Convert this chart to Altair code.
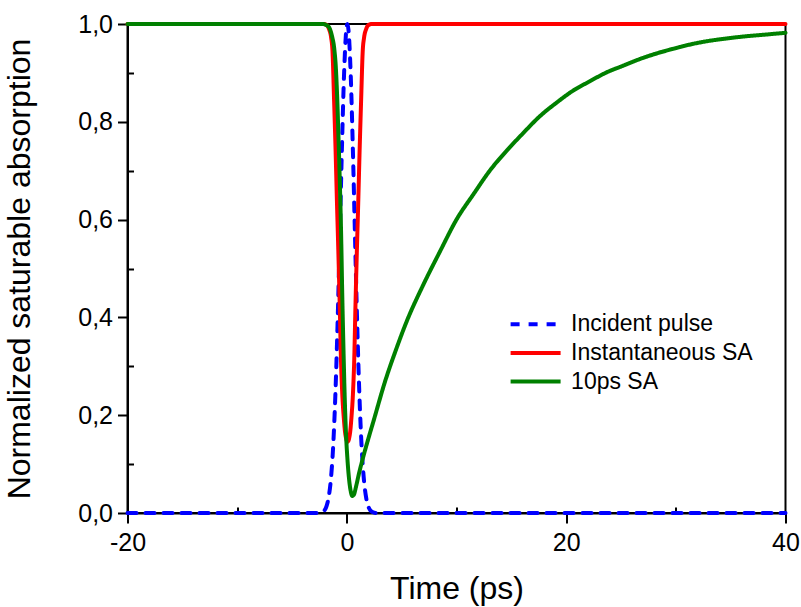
import altair as alt
import pandas as pd

# Incident pulse (normalized)
pulse_t = [-20, -2.6, -2.25, -2.05, -1.85, -1.65, -1.45, -1.25, -1.05, -0.85, -0.65, -0.45,
           -0.25, -0.05, 0.05, 0.15, 0.35, 0.55, 0.75, 0.95, 1.15, 1.35, 1.55, 1.75, 1.95,
           2.15, 2.35, 2.7, 40]
pulse_v = [0, 0, 0.002, 0.005, 0.014, 0.033, 0.07, 0.135, 0.239, 0.383, 0.56, 0.744,
           0.899, 0.988, 1.0, 0.988, 0.899, 0.744, 0.56, 0.383, 0.239, 0.135, 0.07, 0.033, 0.014,
           0.005, 0.002, 0, 0]

# Instantaneous SA
inst_t = [-20, -2.13, -1.83, -1.63, -1.43, -1.31, -1.16, -1.03, -0.9, -0.78, -0.65, -0.53,
          -0.43, -0.28, -0.13, 0.07, 0.27, 0.42, 0.57, 0.67, 0.79, 0.92, 1.04, 1.17, 1.3,
          1.45, 1.57, 1.77, 1.97, 2.27, 40]
inst_v = [1.0, 1.0, 0.998, 0.99, 0.972, 0.945, 0.842, 0.745, 0.635, 0.54, 0.427, 0.31,
          0.25, 0.195, 0.16, 0.146, 0.16, 0.195, 0.25, 0.31, 0.427, 0.54, 0.635, 0.745, 0.842,
          0.945, 0.972, 0.99, 0.998, 1.0, 1.0]

# 10ps SA
slow_t = [-20, -2.2, -1.8, -1.55, -1.35, -1.15, -1.0, -0.88, -0.75, -0.63, -0.52, -0.42,
          -0.3, -0.17, -0.05, 0.05, 0.2, 0.35, 0.5, 0.65, 0.85, 1.1, 1.44, 2.0, 2.42, 3.5,
          4.5, 5.48, 7, 8.52, 10, 11.58, 13, 14.62, 16, 17.68, 19, 20.72, 22, 23.78, 25,
          26.8, 28, 29.88, 31.5, 32.9, 34.5, 36, 38, 40]
slow_v = [1.0, 1.0, 0.997, 0.99, 0.975, 0.95, 0.91, 0.85, 0.76, 0.67, 0.57, 0.45,
          0.33, 0.22, 0.15, 0.112, 0.07, 0.045, 0.035, 0.038, 0.055, 0.08, 0.11, 0.155, 0.187, 0.27,
          0.335, 0.393, 0.468, 0.536, 0.6, 0.653, 0.699, 0.742, 0.775, 0.813, 0.837, 0.865, 0.881, 0.902, 0.913,
          0.929, 0.938, 0.95, 0.959, 0.965, 0.97, 0.974, 0.978, 0.982]

series_names = ["Incident pulse", "Instantaneous SA", "10ps SA"]
series_colors = ["#0000ff", "#ff0000", "#008000"]
series_dash = [[9, 9], [1, 0], [1, 0]]

x_major = [-20, 0, 20, 40]
x_minor = [-10, 10, 30]
y_major = [0.0, 0.2, 0.4, 0.6, 0.8, 1.0]
y_minor = [0.1, 0.3, 0.5, 0.7, 0.9]

df_pulse = pd.DataFrame({"t": pulse_t, "v": pulse_v, "s": series_names[0]})
df_inst = pd.DataFrame({"t": inst_t, "v": inst_v, "s": series_names[1]})
df_slow = pd.DataFrame({"t": slow_t, "v": slow_v, "s": series_names[2]})

FONT = "Liberation Sans"
W, H = 658, 489

xscale = alt.Scale(domain=[-20, 40], nice=False, zero=False)
yscale = alt.Scale(domain=[0, 1], nice=False, zero=False)


def make_legend():
    return alt.Legend(
        title=None, orient="none", legendX=396.6, legendY=288.8,
        symbolType="M-5,0H5", symbolSize=100, symbolStrokeWidth=4,
        labelFont=FONT, labelFontSize=23, labelColor="black",
        labelOffset=24, rowPadding=4.6, padding=0, labelLimit=400,
    )


color = alt.Color(
    "s:N",
    scale=alt.Scale(domain=series_names, range=series_colors),
    legend=make_legend(),
)
dash = alt.StrokeDash(
    "s:N",
    scale=alt.Scale(domain=series_names, range=series_dash),
    legend=make_legend(),
)

x_main_axis = alt.Axis(
    orient="bottom", values=x_major, tickSize=10, tickWidth=2, tickColor="black",
    domainColor="black", domainWidth=2, labelFont=FONT, labelFontSize=25,
    labelColor="black", labelPadding=7, labelExpr="'' + datum.value",
    title="Time (ps)", titleFont=FONT, titleFontSize=32, titleFontWeight="normal",
    titleColor="black", titlePadding=18, grid=False, labelFlush=False,
)
y_main_axis = alt.Axis(
    orient="left", values=y_major, tickSize=10, tickWidth=2, tickColor="black",
    domainColor="black", domainWidth=2, labelFont=FONT, labelFontSize=25,
    labelColor="black", labelPadding=5,
    labelExpr="replace(format(datum.value, '.1f'), '.', ',')",
    title="Normalized saturable absorption", titleFont=FONT, titleFontSize=32,
    titleFontWeight="normal", titleColor="black", titlePadding=41, grid=False,
    labelFlush=False,
)
x_minor_axis = alt.Axis(
    orient="top", offset=-H, values=x_minor, tickSize=6, tickWidth=2,
    tickColor="black", labels=False, domain=False, title=None, grid=False,
)
y_minor_axis = alt.Axis(
    orient="right", offset=-W, values=y_minor, tickSize=6, tickWidth=2,
    tickColor="black", labels=False, domain=False, title=None, grid=False,
)

common_mark = dict(strokeWidth=4, strokeCap="round", strokeJoin="round",
                   interpolate="monotone")

blue = alt.Chart(df_pulse).mark_line(**common_mark).encode(
    x=alt.X("t:Q", scale=xscale, axis=x_main_axis),
    y=alt.Y("v:Q", scale=yscale, axis=y_main_axis),
    color=color, strokeDash=dash,
)
red = alt.Chart(df_inst).mark_line(**common_mark).encode(
    x=alt.X("t:Q", scale=xscale, axis=x_minor_axis),
    y=alt.Y("v:Q", scale=yscale, axis=y_minor_axis),
    color=color, strokeDash=dash,
)
green = alt.Chart(df_slow).mark_line(**common_mark).encode(
    x=alt.X("t:Q", scale=xscale, axis=None),
    y=alt.Y("v:Q", scale=yscale, axis=None),
    color=color, strokeDash=dash,
)

chart = alt.layer(blue, red, green).resolve_axis(
    x="independent", y="independent"
).properties(
    width=W, height=H,
    padding={"left": 127.5, "top": 24, "right": 15.5, "bottom": 94},
    autosize=alt.AutoSizeParams(type="none"),
    background="white",
).configure_view(
    stroke="black", strokeWidth=2
)

chart.save("out.html", embed_options={"renderer": "svg", "actions": False})
